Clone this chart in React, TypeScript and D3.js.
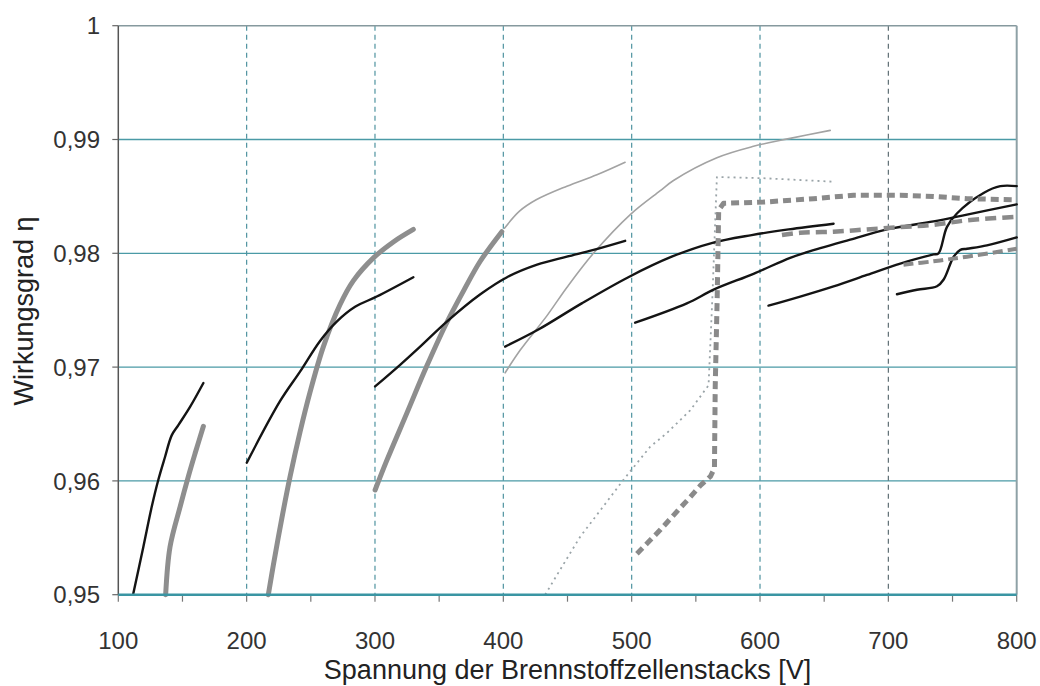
import React from "react";
import * as d3 from "d3";

type P = [number, number];

// ---- axis ticks ----
const xTicks = [100, 200, 300, 400, 500, 600, 700, 800];
const xMinorTicks = [100, 150, 200, 250, 300, 350, 400, 450, 500, 550, 600, 650, 700, 750, 800];
const yTicks = [0.95, 0.96, 0.97, 0.98, 0.99, 1];
const yTickLabels = ["0,95", "0,96", "0,97", "0,98", "0,99", "1"];

// ---- series (voltage V, efficiency) ----
const black1: P[] = [[111.7, 0.9501], [119.5, 0.9542], [126.0, 0.9577], [131.2, 0.9601], [136.4, 0.9621], [141.6, 0.964], [146.8, 0.9649], [155.9, 0.9665], [166.3, 0.9686]];
const gray1: P[] = [[136.9, 0.95], [140.3, 0.9542], [148.1, 0.9577], [154.6, 0.9604], [159.8, 0.9624], [166.3, 0.9648]];
const black2: P[] = [[200.1, 0.9616], [226.0, 0.967], [241.6, 0.9696], [257.2, 0.9723], [270.2, 0.974], [284.5, 0.9753], [301.4, 0.9762], [329.9, 0.9779]];
const gray2: P[] = [[216.9, 0.95], [220.8, 0.9526], [227.4, 0.9567], [233.9, 0.9604], [241.6, 0.9643], [249.4, 0.9678], [259.8, 0.9718], [272.8, 0.9755], [283.2, 0.9776], [298.8, 0.9796], [314.3, 0.981], [329.9, 0.9821]];
const black3: P[] = [[300.1, 0.9683], [319.6, 0.9702], [335.2, 0.9718], [356.0, 0.974], [382.1, 0.9764], [402.9, 0.9779], [426.3, 0.979], [449.5, 0.9797], [470.3, 0.9803], [494.9, 0.9811]];
const gray3: P[] = [[300.1, 0.9592], [309.2, 0.9618], [325.0, 0.966], [340.0, 0.97], [355.0, 0.9737], [369.0, 0.9767], [382.0, 0.9793], [398.8, 0.9819]];
const thin1: P[] = [[400.9, 0.9822], [412.6, 0.9837], [425.6, 0.9847], [449.5, 0.9859], [472.9, 0.9869], [494.9, 0.988]];
const thin2: P[] = [[401.4, 0.9695], [413.2, 0.9715], [433.9, 0.9745], [449.5, 0.977], [470.2, 0.98], [498.9, 0.9834], [522.3, 0.9855], [532.6, 0.9864], [566.4, 0.9884], [594.9, 0.9894], [623.5, 0.9901], [654.7, 0.9908]];
const black4: P[] = [[401.4, 0.9718], [427.3, 0.9733], [461.1, 0.9756], [497.4, 0.9779], [531.2, 0.9797], [562.3, 0.9809], [593.5, 0.9816], [622.3, 0.9821], [657.3, 0.9826]];
const black5: P[] = [[502.7, 0.9739], [543.0, 0.9756], [563.8, 0.9768], [594.9, 0.9782], [623.5, 0.9796], [636.6, 0.9801], [670.3, 0.9812], [698.9, 0.9821], [735.2, 0.9828], [761.3, 0.9834], [800, 0.9843]];
const black6: P[] = [[606.6, 0.9754], [631.3, 0.9762], [657.3, 0.9771], [683.3, 0.9781], [709.3, 0.9791], [735.2, 0.9799], [739.1, 0.98], [745.6, 0.9823], [753.4, 0.9835], [774.2, 0.9853], [787.2, 0.9859], [800, 0.9859]];
const black7: P[] = [[706.7, 0.9764], [722.3, 0.9768], [737.9, 0.9771], [743.1, 0.9777], [750.9, 0.9797], [756.1, 0.9803], [761.3, 0.9804], [776.8, 0.9807], [800, 0.9814]];
const dashed1: P[] = [[504.1, 0.9536], [514.5, 0.9548], [522.3, 0.9557], [535.2, 0.9573], [545.8, 0.9586], [553.6, 0.9596], [561.4, 0.9604], [564.5, 0.9611], [565.1, 0.9683], [566.6, 0.9759], [567.8, 0.9838], [571.6, 0.9844], [602.7, 0.9845], [641.7, 0.9848], [672.9, 0.9851], [709.3, 0.9851], [735.2, 0.985], [761.3, 0.9848], [800, 0.9847]];
const dashed2: P[] = [[617.1, 0.9816], [631.3, 0.9818], [657.3, 0.9819], [683.3, 0.9821], [709.3, 0.9823], [735.2, 0.9825], [761.3, 0.9829], [800, 0.9832]];
const dashed3: P[] = [[711.8, 0.979], [735.2, 0.9793], [761.3, 0.9797], [800, 0.9804]];
const dotted1: P[] = [[432.6, 0.95], [444.3, 0.9522], [459.9, 0.9551], [475.5, 0.9574], [493.6, 0.9601], [514.4, 0.963], [527.4, 0.9642], [545.6, 0.9662], [559.9, 0.9684], [562.8, 0.9759], [566.4, 0.9867], [602.7, 0.9866], [656.0, 0.9863]];

const W = 1040;
const H = 686;
const X0 = 118.3;
const X1 = 1016.7;
const Y0 = 594.7;
const Y1 = 25.7;
const FONT = "'Liberation Sans', Arial, sans-serif";

export default function App() {
  const x = d3.scaleLinear().domain([100, 800]).range([X0, X1]);
  const y = d3.scaleLinear().domain([0.95, 1]).range([Y0, Y1]);
  const smooth = d3.line<P>().x((d) => x(d[0])).y((d) => y(d[1])).curve(d3.curveCatmullRom.alpha(0.5));
  const straight = d3.line<P>().x((d) => x(d[0])).y((d) => y(d[1])).curve(d3.curveLinear);

  const gridTeal = "#4a9aa6";
  return (
    <svg width={W} height={H} style={{ position: "absolute", left: 0, top: 0, background: "#fff" }}>
      {/* horizontal gridlines */}
      {yTicks.filter((t) => t > 0.95 && t < 1).map((t) => (
        <line key={"hg" + t} x1={X0} x2={X1} y1={y(t)} y2={y(t)} stroke={gridTeal} strokeWidth={1.3} />
      ))}
      {/* vertical dashed gridlines */}
      {xTicks.filter((t) => t > 100 && t < 800).map((t) => (
        <line key={"vg" + t} x1={x(t)} x2={x(t)} y1={Y1} y2={Y0} stroke={t === 700 ? "#5f6f74" : "#4f93a0"} strokeWidth={1.2} strokeDasharray="5,4" />
      ))}
      {/* frame */}
      <line x1={X0} x2={X1} y1={Y1} y2={Y1} stroke="#86999e" strokeWidth={1.5} />
      <line x1={X1} x2={X1} y1={Y1} y2={Y0} stroke="#8ea1a6" strokeWidth={2} />
      <line x1={X0} x2={X0} y1={Y1} y2={Y0} stroke="#555" strokeWidth={1.5} />
      {/* y ticks */}
      {yTicks.map((t, i) => (
        <g key={"yt" + t}>
          <line x1={X0 - 6} x2={X0} y1={y(t)} y2={y(t)} stroke="#666" strokeWidth={1.2} />
          <text x={100} y={y(t)} dy="0.36em" textAnchor="end" fontFamily={FONT} fontSize={24} fill="#333">
            {yTickLabels[i]}
          </text>
        </g>
      ))}
      {/* x ticks */}
      {xMinorTicks.map((t) => (
        <line key={"xm" + t} x1={x(t)} x2={x(t)} y1={Y0} y2={Y0 + 7} stroke="#777" strokeWidth={1.2} />
      ))}
      {xTicks.map((t) => (
        <text key={"xl" + t} x={x(t)} y={649} textAnchor="middle" fontFamily={FONT} fontSize={24} fill="#333">
          {t}
        </text>
      ))}

      {/* series */}
      <g fill="none" strokeLinecap="round" strokeLinejoin="round">
        {[gray1, gray2, gray3].map((s, i) => (
          <path key={"g" + i} d={smooth(s) || ""} stroke="#8e8e8e" strokeWidth={5} />
        ))}
        {[thin1, thin2].map((s, i) => (
          <path key={"t" + i} d={smooth(s) || ""} stroke="#a3a3a3" strokeWidth={1.6} />
        ))}
        <path d={straight(dotted1) || ""} stroke="#9aa4a8" strokeWidth={1.8} strokeDasharray="2,4" strokeLinecap="butt" />
        {[black1, black2, black3, black4, black5, black6, black7].map((s, i) => (
          <path key={"b" + i} d={smooth(s) || ""} stroke="#141414" strokeWidth={2.4} />
        ))}
        <path d={straight(dashed1) || ""} stroke="#8a8a8a" strokeWidth={5} strokeDasharray="8,5" strokeLinecap="butt" />
        <path d={smooth(dashed2) || ""} stroke="#8a8a8a" strokeWidth={4.5} strokeDasharray="11,6" strokeLinecap="butt" />
        <path d={smooth(dashed3) || ""} stroke="#8a8a8a" strokeWidth={4} strokeDasharray="10,5" strokeLinecap="butt" />
      </g>

      {/* x axis baseline */}
      <line x1={X0} x2={X1} y1={Y0} y2={Y0} stroke="#3a95a3" strokeWidth={2.5} />

      {/* axis titles */}
      <text x={(X0 + X1) / 2} y={679} textAnchor="middle" fontFamily={FONT} fontSize={27} fill="#222">
        Spannung der Brennstoffzellenstacks [V]
      </text>
      <text transform={`translate(33, 311) rotate(-90)`} textAnchor="middle" fontFamily={FONT} fontSize={27} fill="#222">
        {"Wirkungsgrad  η"}
      </text>
    </svg>
  );
}
